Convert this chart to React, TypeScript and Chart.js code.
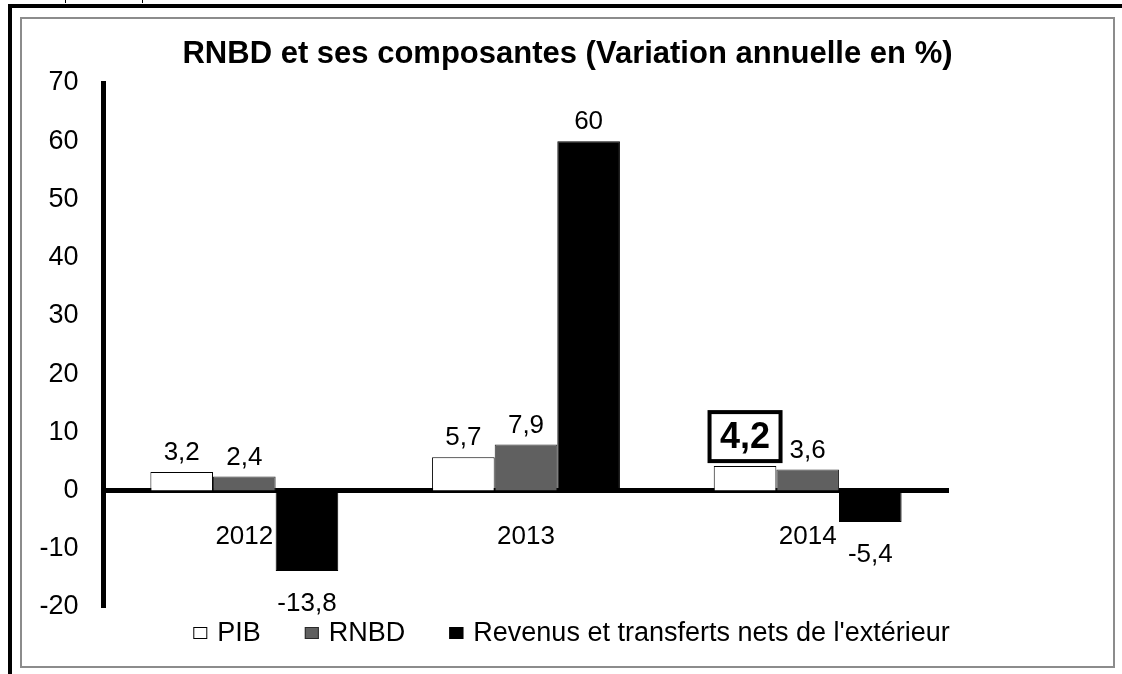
import React, { useEffect, useRef } from 'react';
import { Chart, registerables } from 'chart.js';

Chart.register(...registerables);

const titleText = 'RNBD et ses composantes (Variation annuelle en %)';
const categories = ['2012', '2013', '2014'];
const seriesNames = ['PIB', 'RNBD', "Revenus et transferts nets de l'extérieur"];
const pibValues = [3.2, 5.7, 4.2];
const rnbdValues = [2.4, 7.9, 3.6];
const revenusValues = [-13.8, 60, -5.4];
const yMin = -20;
const yMax = 70;
const yStep = 10;
// the 2014 PIB value is shown boxed and bold
const highlightSeries = 0;
const highlightIndex = 2;

const FONT = '"Liberation Sans", Arial, sans-serif';

const fmt = (v: number) => String(v).replace('.', ',');

const valueLabelsPlugin = {
  id: 'valueLabels',
  afterDatasetsDraw(chart: any) {
    const ctx = chart.ctx;
    chart.data.datasets.forEach((ds: any, di: number) => {
      const meta = chart.getDatasetMeta(di);
      meta.data.forEach((bar: any, i: number) => {
        const v = ds.data[i] as number;
        const { x, y } = bar.getProps(['x', 'y'], true);
        ctx.save();
        ctx.fillStyle = '#000';
        ctx.textAlign = 'center';
        ctx.textBaseline = 'alphabetic';
        if (di === highlightSeries && i === highlightIndex) {
          const w = 71;
          const h = 49;
          const bottom = y - 5;
          ctx.lineWidth = 4;
          ctx.strokeStyle = '#000';
          ctx.strokeRect(x - w / 2, bottom - h, w, h);
          ctx.font = `bold 36px ${FONT}`;
          ctx.textBaseline = 'middle';
          ctx.fillText(fmt(v), x, bottom - h / 2 + 1);
        } else {
          ctx.font = `26px ${FONT}`;
          if (v >= 0) {
            ctx.fillText(fmt(v), x, y - 12);
          } else {
            ctx.fillText(fmt(v), x, y + 40);
          }
        }
        ctx.restore();
      });
    });
  },
};

const legendPlugin = {
  id: 'customLegend',
  afterDraw(chart: any) {
    const ctx = chart.ctx;
    ctx.save();
    ctx.font = `27px ${FONT}`;
    const boxW = 14;
    const boxH = 12;
    const gapBoxText = 10;
    const gapItems = 44;
    const items = chart.data.datasets.map((ds: any) => ({
      text: ds.label,
      fill: ds.backgroundColor,
      stroke: ds.borderColor,
      w: ctx.measureText(ds.label).width,
    }));
    const total = items.reduce((s: number, it: any) => s + boxW + gapBoxText + it.w, 0) + gapItems * (items.length - 1);
    let x = chart.width / 2 + 4 - total / 2;
    const cy = chart.chartArea.bottom + 26;
    ctx.textBaseline = 'middle';
    ctx.textAlign = 'left';
    items.forEach((it: any) => {
      ctx.fillStyle = it.fill;
      ctx.fillRect(x, cy - boxH / 2, boxW, boxH);
      ctx.lineWidth = 1;
      ctx.strokeStyle = it.stroke;
      ctx.strokeRect(x + 0.5, cy - boxH / 2 + 0.5, boxW - 1, boxH - 1);
      ctx.fillStyle = '#000';
      ctx.fillText(it.text, x + boxW + gapBoxText, cy + 1);
      x += boxW + gapBoxText + it.w + gapItems;
    });
    ctx.restore();
  },
};

function BarChart() {
  const ref = useRef<HTMLCanvasElement>(null);
  useEffect(() => {
    const canvas = ref.current!;
    const chart = new Chart(canvas, {
      type: 'bar',
      data: {
        labels: categories,
        datasets: [
          { label: seriesNames[0], data: pibValues, backgroundColor: '#ffffff', borderColor: '#000000', borderWidth: 1 },
          { label: seriesNames[1], data: rnbdValues, backgroundColor: '#606060', borderColor: '#2a2a2a', borderWidth: 1 },
          { label: seriesNames[2], data: revenusValues, backgroundColor: '#000000', borderColor: '#000000', borderWidth: 1 },
        ],
      },
      options: {
        animation: false,
        responsive: true,
        maintainAspectRatio: false,
        layout: { padding: { left: 0, right: 0, top: 0, bottom: 59 } },
        datasets: {
          bar: { categoryPercentage: 0.667, barPercentage: 1 },
        },
        plugins: {
          legend: { display: false },
          tooltip: { enabled: false },
          title: {
            display: true,
            text: titleText,
            color: '#000',
            font: { family: FONT, size: 31, weight: 'bold' },
            padding: { top: 17, bottom: 9.8 },
          },
        },
        scales: {
          x: {
            position: { y: 0 } as any,
            z: 1,
            grid: { display: false, drawTicks: false },
            border: { display: true, color: '#000', width: 5 },
            ticks: { color: '#000', font: { family: FONT, size: 26 }, padding: 31, maxRotation: 0 },
          },
          y: {
            min: yMin,
            max: yMax,
            grid: { display: false, drawTicks: false },
            border: { display: true, color: '#000', width: 5 },
            ticks: { stepSize: yStep, color: '#000', font: { family: FONT, size: 27 }, padding: 25 },
            afterFit: (scale: any) => {
              scale.width = 81.5;
            },
          },
          ySpace: {
            type: 'linear',
            position: 'right',
            min: yMin,
            max: yMax,
            grid: { display: false, drawTicks: false },
            border: { display: false },
            ticks: { display: false },
            afterFit: (scale: any) => {
              scale.width = 164.5;
            },
          },
        },
      },
      plugins: [valueLabelsPlugin, legendPlugin],
    });
    return () => chart.destroy();
  }, []);
  return <canvas ref={ref} />;
}

export default function App() {
  return (
    <div style={{ position: 'absolute', left: 0, top: 0, width: 1122, height: 674, overflow: 'hidden', background: '#fff' }}>
      <div style={{ position: 'absolute', left: 65, top: 0, width: 1, height: 3, background: '#000' }} />
      <div style={{ position: 'absolute', left: 142, top: 0, width: 1, height: 3, background: '#000' }} />
      <div
        style={{
          position: 'absolute',
          left: 8,
          top: 4,
          width: 1114,
          height: 670,
          boxSizing: 'border-box',
          borderTop: '4px solid #000',
          borderLeft: '4px solid #000',
        }}
      />
      <div
        style={{
          position: 'absolute',
          left: 20,
          top: 17,
          width: 1091,
          height: 647,
          border: '2px solid #8c8c8c',
        }}
      >
        <div style={{ position: 'relative', width: 1091, height: 647 }}>
          <BarChart />
        </div>
      </div>
    </div>
  );
}
